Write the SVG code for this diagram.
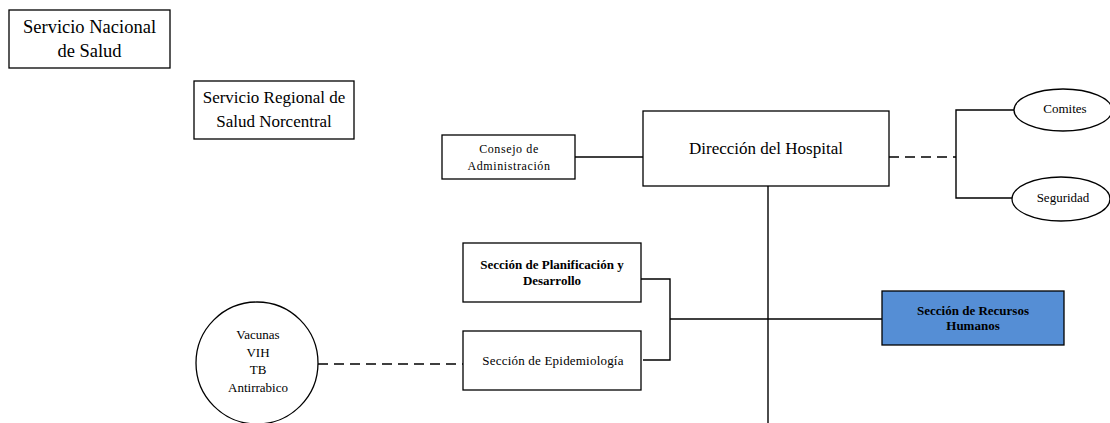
<svg xmlns="http://www.w3.org/2000/svg" width="1110" height="423" viewBox="0 0 1110 423">
<style>
.box{fill:#fff;stroke:#000;stroke-width:1.3}
.blue{fill:#558ED5;stroke:#000;stroke-width:1.3}
text{font-family:'Liberation Serif','Times New Roman',serif;fill:#000;text-anchor:middle}
.sm{font-size:12px;letter-spacing:0.6px}
.md{font-size:13px}
.bd{font-size:13px;font-weight:bold}
.ln{fill:none;stroke:#000;stroke-width:1.4}
.dash{fill:none;stroke:#000;stroke-width:1.4;stroke-dasharray:10 6}
</style>
<rect width="1110" height="423" fill="#fff"/>
<g id="connectors">
<line class="ln" x1="575" y1="157" x2="643" y2="157"/>
<line class="dash" x1="889" y1="157" x2="956" y2="157"/>
<polyline class="ln" points="1014,110 956,110 956,198 1012,198"/>
<line class="ln" x1="768" y1="186" x2="768" y2="423"/>
<polyline class="ln" points="641,279 670,279 670,360 643,360"/>
<line class="ln" x1="670" y1="319" x2="882" y2="319"/>
<line class="dash" x1="318" y1="364" x2="463" y2="364"/>
</g>
<g id="servicio-nacional">
<rect class="box" x="9" y="10" width="161" height="58"/>
<text font-size="18.5"><tspan x="89.5" y="33">Servicio Nacional</tspan><tspan x="89.5" y="57">de Salud</tspan></text>
</g>
<g id="servicio-regional">
<rect class="box" x="194" y="81" width="160" height="58"/>
<text font-size="17"><tspan x="274" y="103">Servicio Regional de</tspan><tspan x="274" y="127">Salud Norcentral</tspan></text>
</g>
<g id="consejo">
<rect class="box" x="442" y="135" width="133" height="44"/>
<text class="sm"><tspan x="509" y="153">Consejo de</tspan><tspan x="509" y="170">Administración</tspan></text>
</g>
<g id="direccion">
<rect class="box" x="643" y="111" width="246" height="75"/>
<text font-size="17" x="766" y="154">Dirección del Hospital</text>
</g>
<g id="comites">
<ellipse class="box" cx="1063" cy="110" rx="49" ry="21"/>
<text class="md" x="1065" y="113">Comites</text>
</g>
<g id="seguridad">
<ellipse class="box" cx="1061" cy="199" rx="49" ry="22"/>
<text class="md" x="1063" y="202">Seguridad</text>
</g>
<g id="planificacion">
<rect class="box" x="463" y="243" width="178" height="59"/>
<text class="bd"><tspan x="552" y="269">Sección de Planificación y</tspan><tspan x="552" y="285">Desarrollo</tspan></text>
</g>
<g id="epidemiologia">
<rect class="box" x="463" y="331" width="178" height="59"/>
<text class="md" letter-spacing="0.2" x="553" y="365">Sección de Epidemiología</text>
</g>
<g id="recursos-humanos">
<rect class="blue" x="882" y="291" width="182" height="54"/>
<text class="bd"><tspan x="973" y="315">Sección de Recursos</tspan><tspan x="973" y="330">Humanos</tspan></text>
</g>
<g id="vacunas">
<circle class="box" cx="257" cy="363" r="61"/>
<text class="md"><tspan x="258" y="339">Vacunas</tspan><tspan x="258" y="357">VIH</tspan><tspan x="258" y="374">TB</tspan><tspan x="258" y="392">Antirrabico</tspan></text>
</g>
</svg>
